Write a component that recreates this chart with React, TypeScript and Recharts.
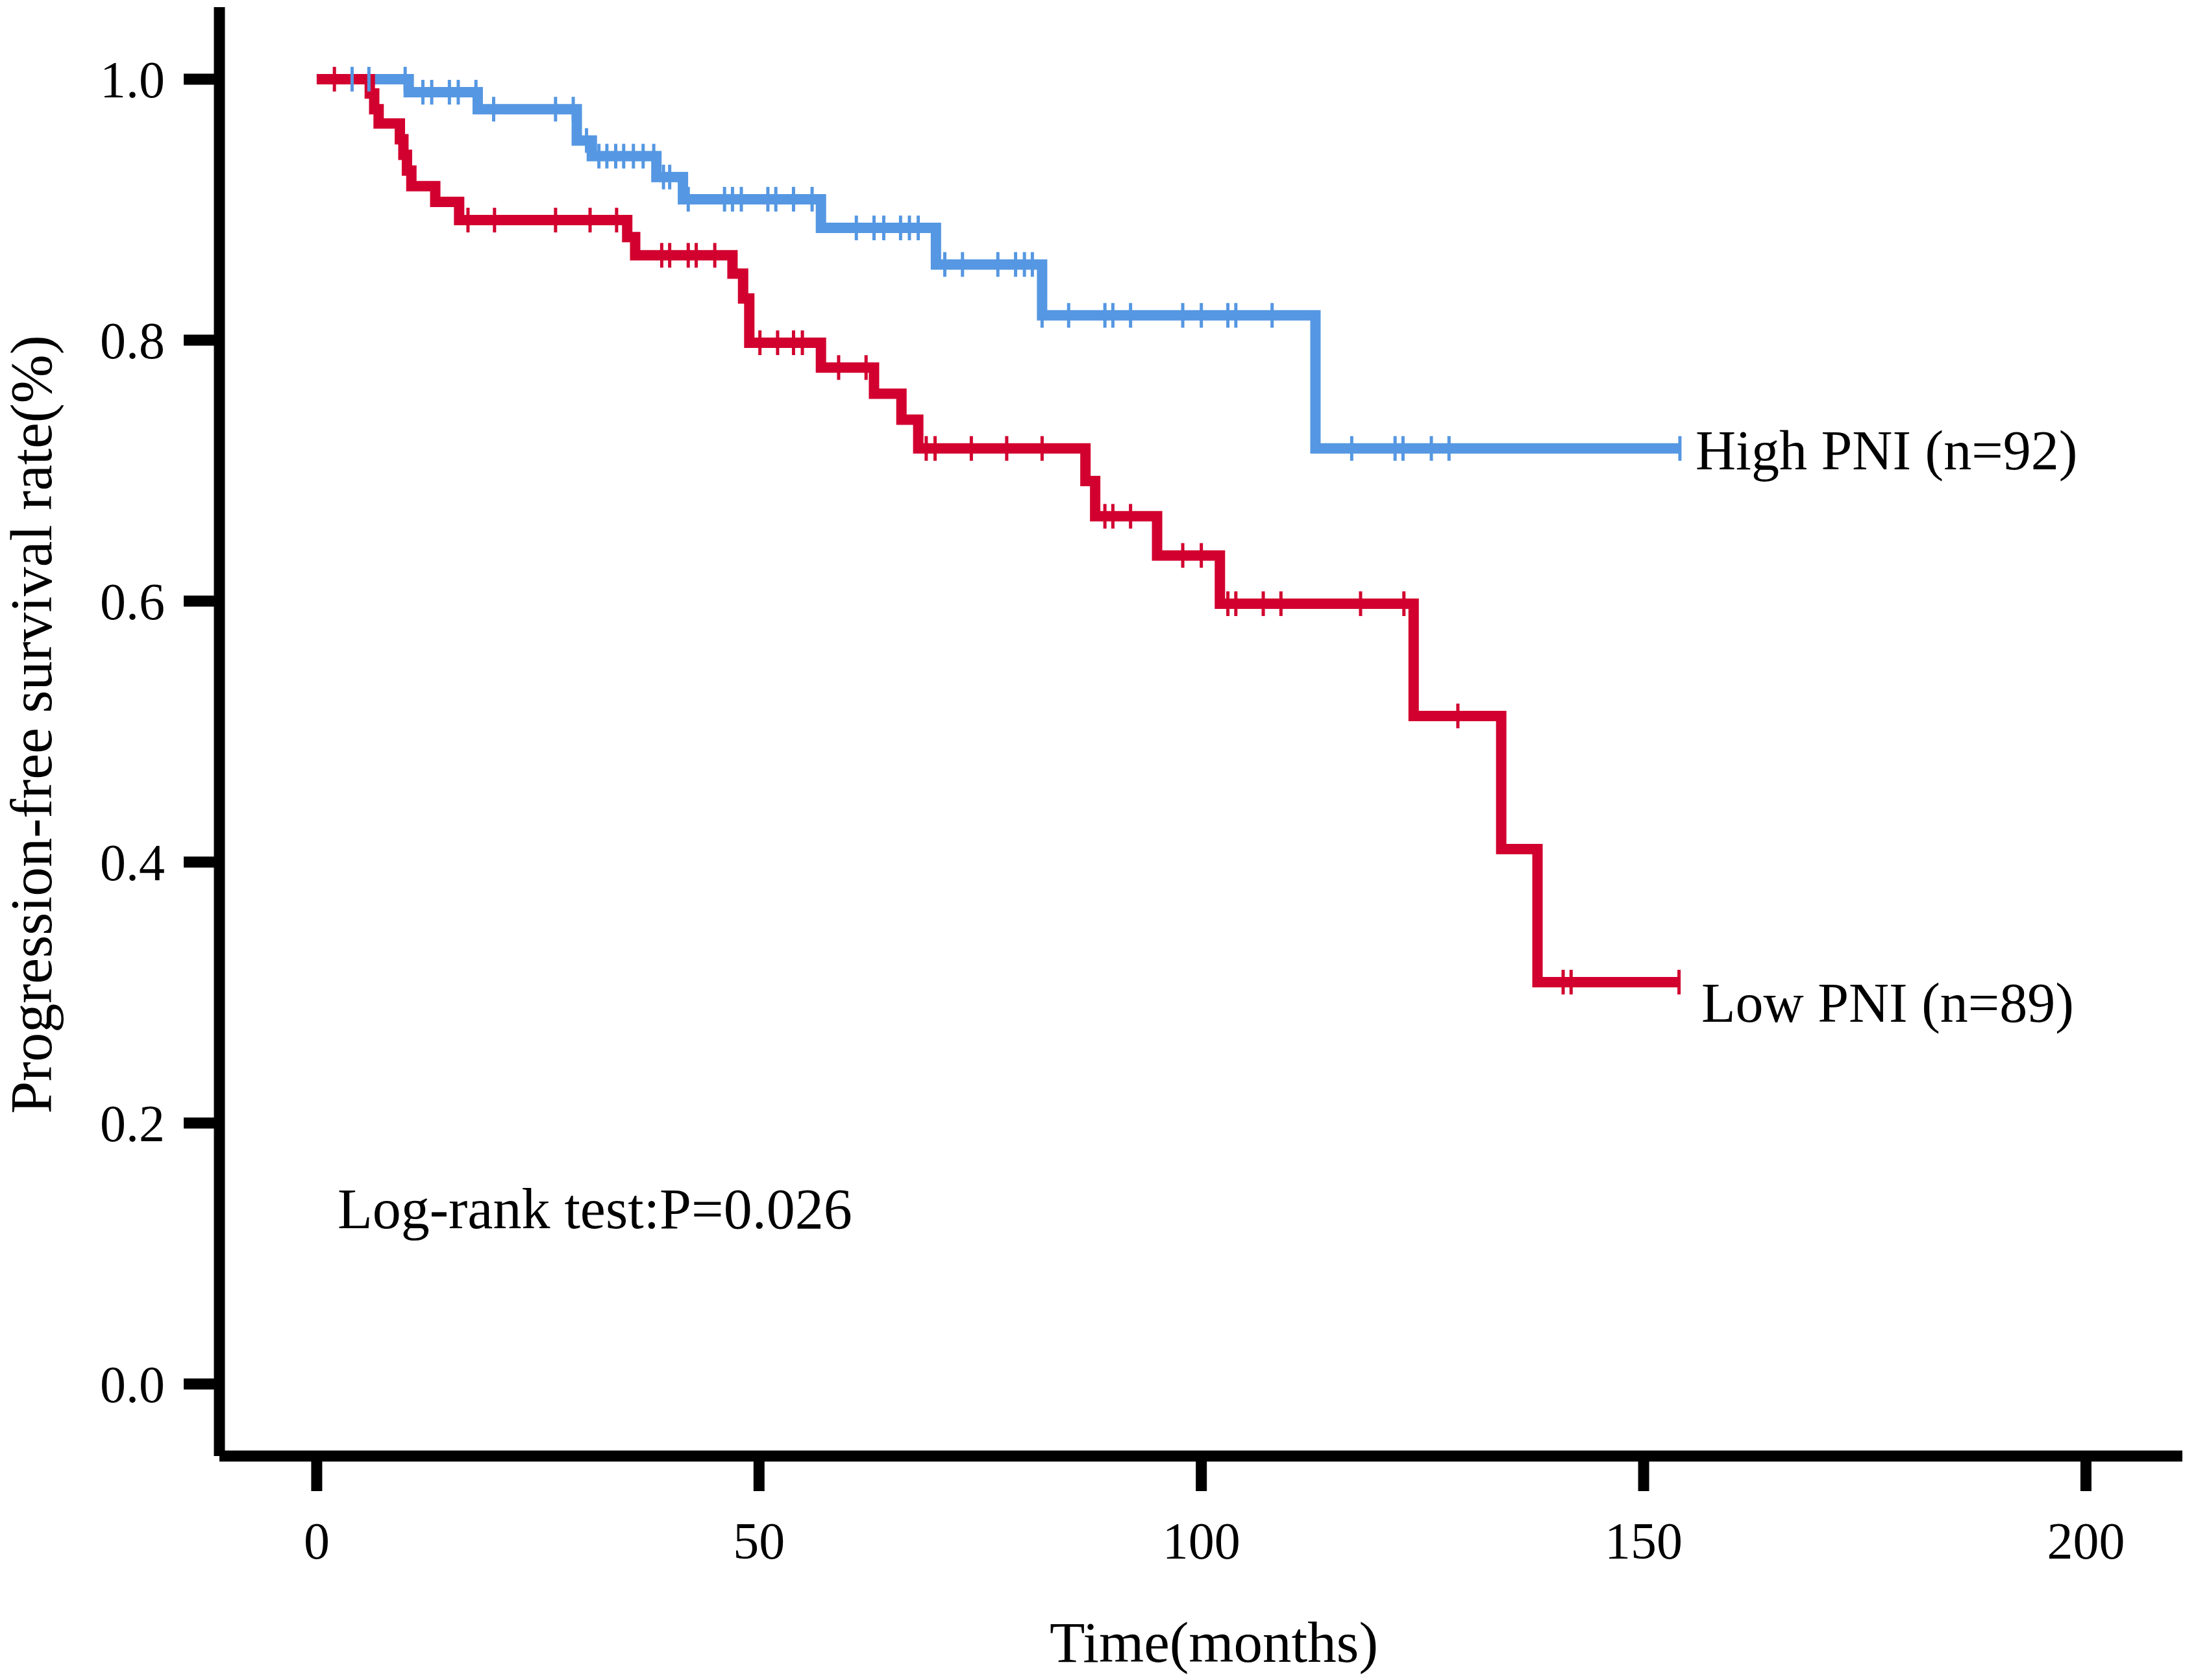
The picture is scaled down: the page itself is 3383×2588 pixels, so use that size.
import {
  ComposedChart,
  Line,
  Scatter,
  XAxis,
  YAxis,
} from "recharts";

// Kaplan-Meier steps: time (months) and survival at that step
const highTimes = [0, 10.4, 18.2, 29.4, 31.1, 38.4, 41.4, 57.0, 70.0, 82.0, 112.9, 154.1];
const highSurv = [1.0, 0.99, 0.977, 0.953, 0.941, 0.925, 0.908, 0.886, 0.858, 0.819, 0.717, 0.717];

const lowTimes = [
  0, 6.0, 6.5, 7.0, 9.4, 9.8, 10.2, 10.7, 13.4, 16.1, 35.1, 36.0, 47.0, 48.2, 48.9,
  57.0, 63.0, 66.1, 68.0, 86.9, 88.0, 95.0, 102.1, 124.0, 133.9, 138.0, 154.0,
];
const lowSurv = [
  1.0, 0.989, 0.977, 0.966, 0.954, 0.942, 0.93, 0.918, 0.906, 0.892, 0.879, 0.865, 0.851, 0.832, 0.798,
  0.779, 0.759, 0.739, 0.717, 0.692, 0.665, 0.635, 0.598, 0.512, 0.41, 0.308, 0.308,
];

// censored observations (time only, level comes from the curve)
const highCensor = [
  4.0, 5.9, 10.0, 12.0, 13.0, 15.0, 16.0, 18.0, 20.0, 27.0, 29.0, 30.5, 31.9, 32.8, 33.8, 34.7,
  35.8, 36.9, 38.1, 39.2, 39.9, 42.0, 46.1, 47.0, 48.0, 51.0, 51.9, 53.9, 56.0, 61.0, 63.0, 64.1,
  66.0, 67.0, 68.0, 71.0, 73.0, 77.0, 79.0, 80.0, 80.9, 82.0, 85.0, 89.1, 90.0, 92.0, 97.9, 100.0,
  103.0, 103.9, 108.0, 117.0, 121.9, 122.8, 126.0, 128.0, 154.1,
];
const lowCensor = [
  2.0, 17.1, 20.1, 27.0, 30.9, 33.9, 39.0, 39.9, 42.0, 42.9, 45.0, 50.1, 52.1, 53.9, 54.9, 59.0,
  62.1, 68.9, 69.9, 74.0, 78.0, 82.0, 89.1, 90.0, 92.0, 97.9, 100.0, 103.0, 103.9, 107.0, 109.0,
  118.0, 122.9, 129.0, 140.9, 141.8, 154.0,
];

const xTicks = [0, 50, 100, 150, 200];
const yTicks = [0, 0.2, 0.4, 0.6, 0.8, 1.0];

const BLUE = "#5597E2";
const RED = "#D2002F";
const FONT = "'Liberation Serif', 'Times New Roman', serif";

function toSteps(times: number[], surv: number[]) {
  return times.map((t, i) => ({ t, s: surv[i] }));
}

function levelAt(times: number[], surv: number[], t: number) {
  let v = surv[0];
  for (let i = 0; i < times.length; i++) {
    if (times[i] <= t) v = surv[i];
  }
  return v;
}

function toCensor(c: number[], times: number[], surv: number[]) {
  return c.map((t) => ({ t, s: levelAt(times, surv, t) }));
}

function CensorTick(color: string) {
  return (props: any) => {
    const { cx, cy } = props;
    if (cx == null || cy == null) return <g />;
    return (
      <line
        x1={cx}
        x2={cx}
        y1={cy - 19}
        y2={cy + 19}
        stroke={color}
        strokeWidth={5}
      />
    );
  };
}

export default function App() {
  const high = toSteps(highTimes, highSurv);
  const low = toSteps(lowTimes, lowSurv);
  const highC = toCensor(highCensor, highTimes, highSurv);
  const lowC = toCensor(lowCensor, lowTimes, lowSurv);

  return (
    <div style={{ position: "absolute", left: 0, top: 0, background: "#fff" }}>
      <ComposedChart
        width={3383}
        height={2588}
        margin={{ top: 11, right: 21, bottom: 0, left: 0 }}
      >
        <XAxis
          type="number"
          dataKey="t"
          domain={[-11, 210.9]}
          ticks={xTicks}
          allowDataOverflow
          height={345}
          tickSize={54}
          tickMargin={47}
          axisLine={{ stroke: "#000", strokeWidth: 17 }}
          tickLine={{ stroke: "#000", strokeWidth: 17 }}
          tick={{ fill: "#000", fontSize: 80, fontFamily: FONT }}
        />
        <YAxis
          type="number"
          dataKey="s"
          domain={[-0.0552, 1.0552]}
          ticks={yTicks}
          allowDataOverflow
          width={338}
          tickSize={55}
          tickMargin={29}
          tickFormatter={(v: number) => v.toFixed(1)}
          axisLine={{ stroke: "#000", strokeWidth: 17 }}
          tickLine={{ stroke: "#000", strokeWidth: 17 }}
          tick={{ fill: "#000", fontSize: 80, fontFamily: FONT }}
        />
        <Line
          data={high}
          dataKey="s"
          type="stepAfter"
          stroke={BLUE}
          strokeWidth={16}
          strokeLinejoin="miter"
          dot={false}
          isAnimationActive={false}
        />
        <Line
          data={low}
          dataKey="s"
          type="stepAfter"
          stroke={RED}
          strokeWidth={16}
          strokeLinejoin="miter"
          dot={false}
          isAnimationActive={false}
        />
        <Scatter data={highC} dataKey="s" shape={CensorTick(BLUE)} isAnimationActive={false} />
        <Scatter data={lowC} dataKey="s" shape={CensorTick(RED)} isAnimationActive={false} />

        <text x={2612} y={694} fontSize={86} fontFamily={FONT} fill="#000" dominantBaseline="central">
          High PNI (n=92)
        </text>
        <text x={2621} y={1545} fontSize={86} fontFamily={FONT} fill="#000" dominantBaseline="central">
          Low PNI (n=89)
        </text>
        <text x={520} y={1862} fontSize={88} fontFamily={FONT} fill="#000" dominantBaseline="central">
          Log-rank test:P=0.026
        </text>
        <text x={1870} y={2530} fontSize={89} fontFamily={FONT} fill="#000" textAnchor="middle" dominantBaseline="central">
          Time(months)
        </text>
        <text
          x={48}
          y={1116}
          fontSize={90}
          fontFamily={FONT}
          fill="#000"
          textAnchor="middle"
          dominantBaseline="central"
          transform="rotate(-90 48 1116)"
        >
          Progression-free survival rate(%)
        </text>
      </ComposedChart>
    </div>
  );
}
